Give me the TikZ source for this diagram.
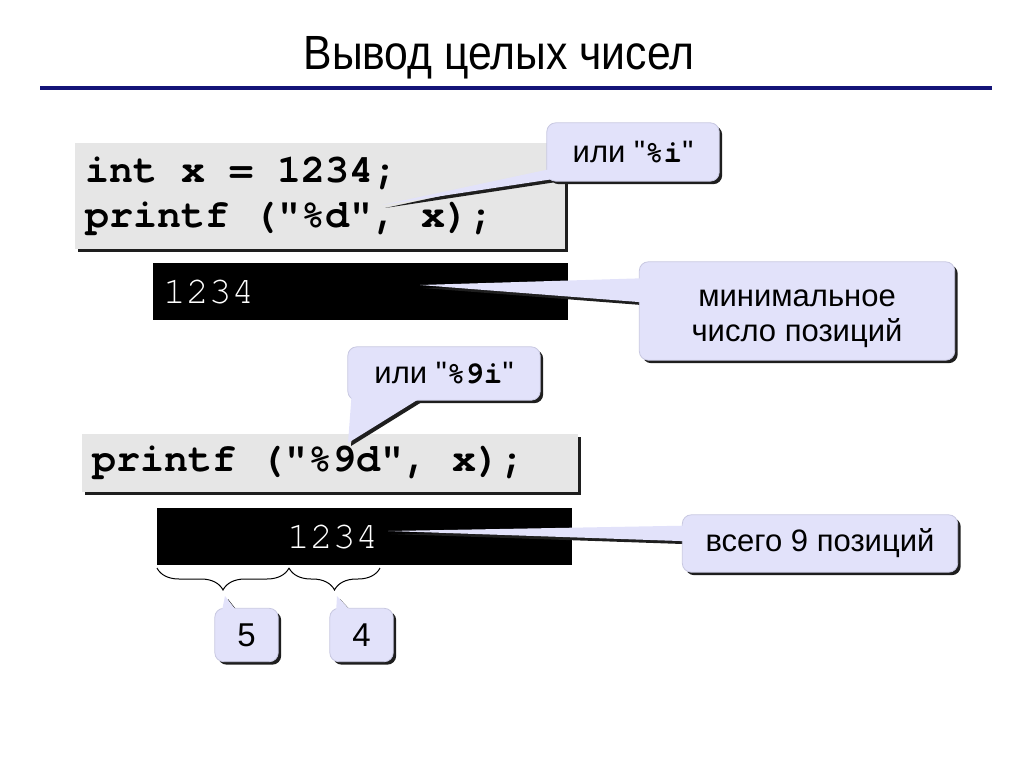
\documentclass[tikz,border=0pt]{standalone}
\usepackage{fontspec}
\setmainfont{Liberation Sans}
\newfontfamily\codefont{texgyrecursor}[Extension=.otf, UprightFont=*-regular, BoldFont=*-bold]
\newfontfamily\titlefont[FakeStretch=0.89]{Liberation Sans}
\usetikzlibrary{calc,decorations.pathreplacing}
\pgfdeclarelayer{boxes}\pgfdeclarelayer{shade}\pgfdeclarelayer{bubble}
\pgfsetlayers{boxes,shade,bubble,main}
\definecolor{navy}{RGB}{20,20,120}
\definecolor{codegray}{RGB}{230,230,230}
\definecolor{lav}{RGB}{226,226,250}
\definecolor{lavedge}{RGB}{200,200,225}
\definecolor{shad}{RGB}{30,30,30}
% a full-width monospace space
\newcommand\ms{\makebox[\fontcharwd\font`0]{}}
\tikzset{
  titletext/.style={font=\titlefont\fontsize{48}{48}\selectfont, inner sep=0pt},
  codebox/.style={anchor=north west, inner xsep=10pt, inner ysep=0pt, align=left,
     font=\codefont\bfseries\fontsize{40}{45}\selectfont},
  outbox/.style={anchor=north west, inner xsep=10pt, inner ysep=0pt, align=left, text=white,
     font=\codefont\fontsize{38}{38}\selectfont},
  bubbletext/.style={inner sep=0pt, align=center, font=\fontsize{31}{35}\selectfont},
  digittext/.style={bubbletext, font=\fontsize{33}{33}\selectfont, minimum width=63pt, minimum height=53pt},
  bracestyle/.style={line width=1pt, decorate, decoration={brace, mirror, amplitude=22pt}},
}
\newcommand\bubbleshape[4]{%
  \begin{pgfonlayer}{shade}
    \fill[shad, rounded corners=9pt] ($(#1.north west)+(3,3)$) rectangle ($(#1.south east)+(3,3)$);
    \fill[shad] ($(#2)+(3,3)$) -- ($(#4)+(3,3)$) -- ($(#3)+(3,3)$) -- cycle;
  \end{pgfonlayer}
  \begin{pgfonlayer}{bubble}
    \fill[lav, draw=lavedge, line width=0.8pt, rounded corners=9pt] (#1.north west) rectangle (#1.south east);
    \fill[lav] (#2) -- (#4) -- (#3) -- cycle;
  \end{pgfonlayer}}
\newcommand\codeshape[1]{%
  \begin{pgfonlayer}{boxes}
    \fill[shad] ($(#1.north west)+(3,3)$) rectangle ($(#1.south east)+(3,3)$);
    \fill[codegray] (#1.north west) rectangle (#1.south east);
  \end{pgfonlayer}}
\newcommand\outshape[1]{%
  \begin{pgfonlayer}{boxes}
    \fill[black] (#1.north west) rectangle (#1.south east);
  \end{pgfonlayer}}
\newcommand\q{\textquotedbl}
\begin{document}
\begin{tikzpicture}[x=1pt,y=-1pt]
\useasboundingbox (0,0) rectangle (1024,767);

% title
\node[titletext] (title) at (499,58) {Вывод целых чисел};
\draw[navy, line width=4pt] (40,88) -- (992,88);

% code box 1
\node[codebox, minimum width=490pt, minimum height=106pt, text width=470pt] (code1) at (75,143)
  {int\ms x\ms =\ms 1234;\\printf\ms ("\%d",\ms x);};
\codeshape{code1}

% output box 1
\node[outbox, minimum width=415pt, minimum height=57pt, text width=395pt] (out1) at (153,263) {1234};
\outshape{out1}

% code box 2
\node[codebox, minimum width=496pt, minimum height=58pt, text width=476pt] (code2) at (82,434)
  {printf\ms ("\%9d",\ms x);};
\codeshape{code2}

% output box 2
\node[outbox, minimum width=415pt, minimum height=57pt, text width=395pt] (out2) at (157,508)
  {\phantom{00000}\hspace{6pt}1234};
\outshape{out2}

% callout 1
\node[bubbletext, minimum width=172pt, minimum height=58pt] (c1) at (633,152) {или \q{\codefont\bfseries\%i}\q};
\coordinate (t1) at (382,205);
\coordinate (a1) at ($(c1.south west)+(12,-14)$);
\coordinate (b1) at ($(c1.south west)+(12,-3)$);
\bubbleshape{c1}{a1}{b1}{t1}

% callout 2
\node[bubbletext, minimum width=315pt, minimum height=98pt] (c2) at (797,311) {\rule{0pt}{33pt}минимальное\\число позиций};
\coordinate (t2) at (420,285);
\coordinate (a2) at ($(c2.west)+(12,-33)$);
\coordinate (b2) at ($(c2.west)+(12,-8)$);
\bubbleshape{c2}{a2}{b2}{t2}

% callout 3
\node[bubbletext, minimum width=192pt, minimum height=53pt] (c3) at (444,373.5) {или \q{\codefont\bfseries\%9i}\q};
\coordinate (t3) at (348,443);
\coordinate (a3) at ($(c3.south west)+(4,-8)$);
\coordinate (b3) at ($(c3.south west)+(82,-8)$);
\bubbleshape{c3}{a3}{b3}{t3}

% callout 4
\node[bubbletext, minimum width=275pt, minimum height=57pt] (c4) at (820,543.5) {всего 9 позиций};
\coordinate (t4) at (388,531);
\coordinate (a4) at ($(c4.west)+(12,-18)$);
\coordinate (b4) at ($(c4.west)+(12,-2)$);
\bubbleshape{c4}{a4}{b4}{t4}

% braces
\coordinate (r0) at (157,568);
\coordinate (r1) at (289,568);
\coordinate (r2) at (380,568);
\draw[bracestyle] (r0) -- (r1);
\draw[bracestyle] (r1) -- (r2);

% callouts 5 and 4
\node[digittext] (c5) at (246.5,635) {5};
\coordinate (t5) at (225,596);
\coordinate (a5) at ($(c5.north west)+(6,8)$);
\coordinate (b5) at ($(c5.north west)+(26,8)$);
\bubbleshape{c5}{a5}{b5}{t5}

\node[digittext] (c6) at (361.5,635) {4};
\coordinate (t6) at (337,596);
\coordinate (a6) at ($(c6.north west)+(6,8)$);
\coordinate (b6) at ($(c6.north west)+(26,8)$);
\bubbleshape{c6}{a6}{b6}{t6}
\end{tikzpicture}
\end{document}
